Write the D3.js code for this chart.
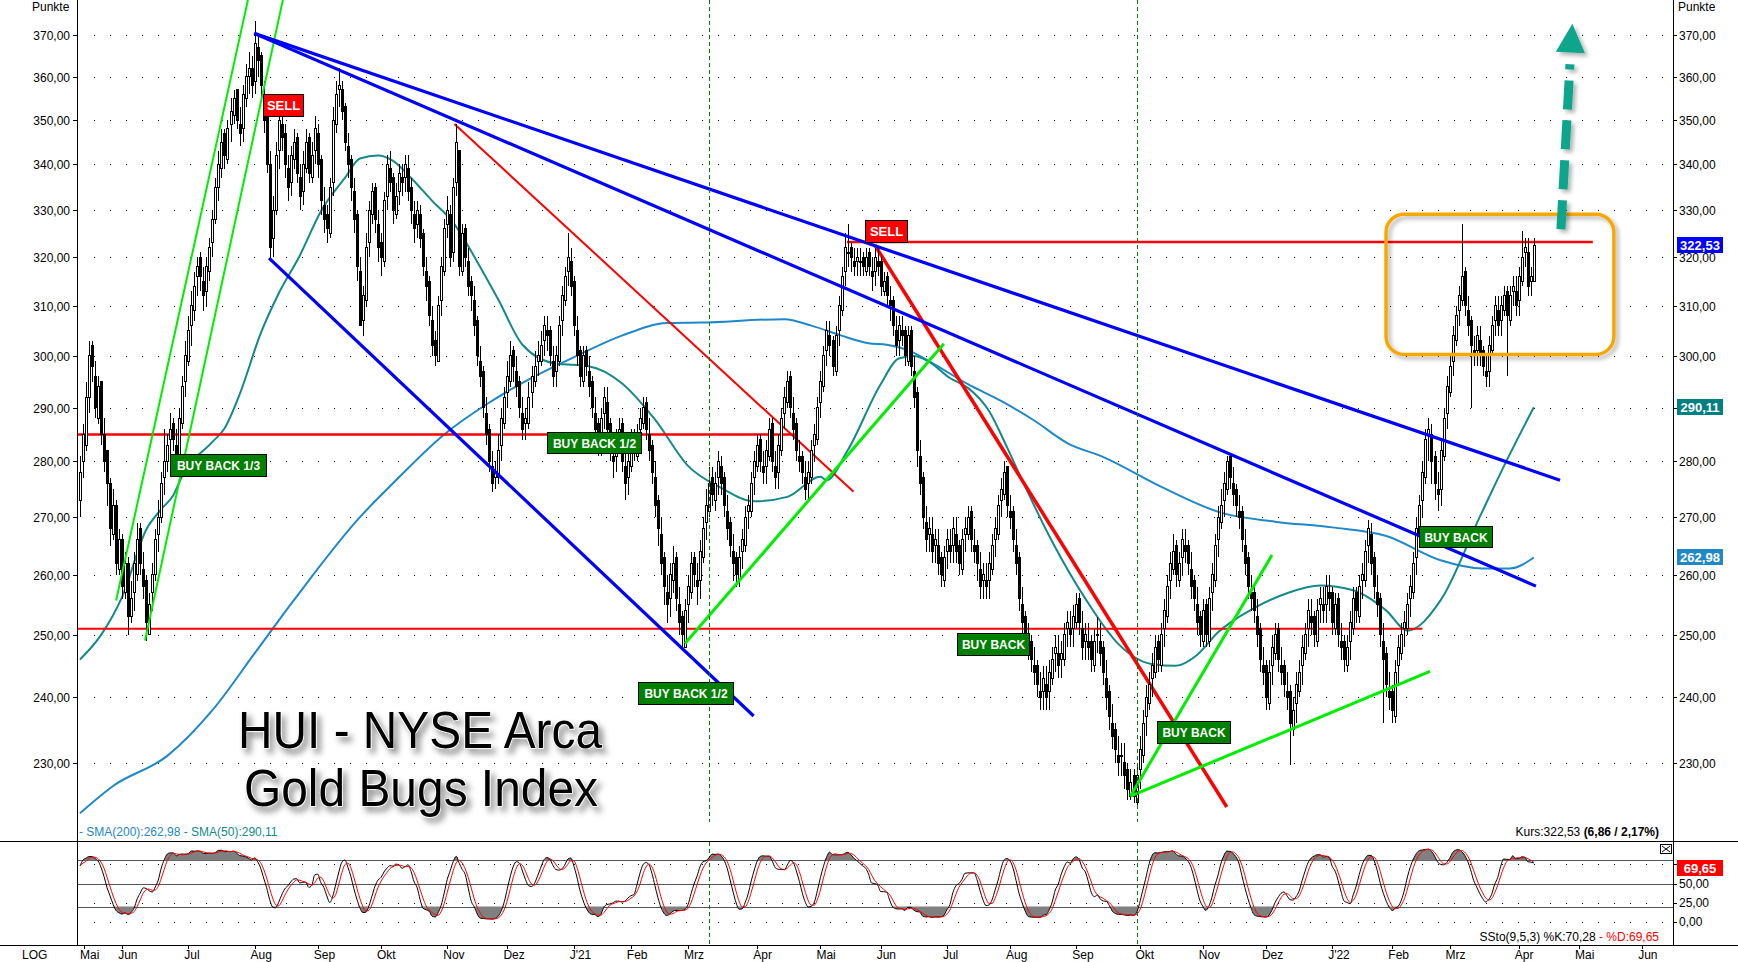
<!DOCTYPE html>
<html><head><meta charset="utf-8">
<script src="https://cdn.jsdelivr.net/npm/d3@7"></script>
<style>body{margin:0;background:#fff}svg{display:block}text{font-family:Arial,"Liberation Sans",sans-serif}</style>
</head><body><svg id="c" width="1738" height="962"></svg>
<script>
// ---------- DATA (daily candles, 2020-05-11 .. 2022-04-08) ----------
const opens=[273,280,283,292,302,296,288,295,285,282,
276,267,272,261,266,257,262,253,257,260,
268,261,259,250,257,260,267,270,277,280,
284,287,283,281,287,295,299,306,309,316,
320,315,313,317,323,328,335,339,347,341,
349,351,357,349,348,355,360,362,359,367,
365,356,352,340,324,330,343,349,347,339,
336,341,346,337,334,339,346,337,343,347,
341,331,329,325,336,349,357,357,353,344,
341,334,329,317,307,311,323,329,335,327,
323,319,333,339,337,329,334,337,337,339,
335,329,327,329,325,317,315,307,303,299,
311,317,327,329,321,336,343,317,326,319,
315,311,307,299,297,289,286,279,277,277,
283,287,293,295,301,297,295,289,287,287,
293,295,299,299,303,305,305,299,297,299,
307,311,317,319,315,305,301,295,301,297,
295,289,287,282,289,291,287,281,281,283,
287,279,277,279,285,281,286,287,291,285,
283,277,273,267,263,257,256,259,263,255,
253,248,255,257,263,259,259,263,269,271,
277,273,277,279,277,271,269,264,263,259,
264,265,271,271,277,279,284,279,279,281,
287,279,278,282,289,291,296,289,287,281,
281,277,276,277,283,284,291,294,301,304,
303,297,305,309,317,321,322,319,319,319,
320,317,321,317,317,319,319,313,316,311,
311,305,303,305,305,299,305,297,293,281,
277,269,267,267,265,265,263,259,264,265,
265,267,265,261,267,267,271,265,265,261,
259,259,259,261,266,267,273,274,279,271,
271,265,263,255,253,249,249,245,245,241,
241,242,241,243,247,247,246,246,251,251,
251,252,256,251,249,249,249,245,250,249,
248,243,241,236,235,231,231,230,229,225,
228,224,229,231,237,239,243,244,249,245,
251,253,259,261,265,259,263,265,265,261,
259,255,253,249,255,249,257,259,266,269,
273,275,281,276,275,271,271,265,263,257,
257,253,251,245,245,239,245,247,251,245,
245,241,241,235,239,241,245,247,251,253,
253,249,255,255,255,257,257,251,256,249,
249,245,249,251,257,253,259,259,265,267,
263,257,256,249,247,241,241,237,245,247,
251,251,256,257,263,267,273,277,285,285,
281,275,275,281,289,293,299,303,309,311,
317,309,307,301,301,303,301,297,297,301,
307,309,307,309,313,307,313,313,311,315,
321,321,315,315];
const highs=[281,287,295,303,303,299,296,295,288,282,
277,275,273,268,267,264,263,259,264,269,
269,264,260,257,262,268,273,278,286,285,
289,288,286,290,296,303,308,313,317,320,
321,318,320,324,330,337,343,348,348,350,
355,357,357,353,358,363,366,365,373.5,370,
366,359,353,343,333,345,353,352,349,342,
344,348,347,340,343,348,347,345,351,349,
342,335,331,337,353,359,362,359,354,347,
342,337,330,320,314,325,332,336,336,330,
325,334,342,343,338,336,340,340,342,342,
337,332,332,331,326,320,316,310,305,312,
320,328,333,331,337,349,343,327,327,322,
316,314,308,302,298,292,287,282,280,285,
290,294,299,303,302,300,296,292,290,295,
298,301,303,305,308,308,306,302,302,308,
314,318,325,322,316,308,302,302,302,300,
296,292,288,290,294,294,288,284,286,288,
288,282,282,286,286,287,290,292,292,288,
284,280,274,270,264,260,262,265,264,258,
254,256,260,264,264,262,266,270,275,279,
279,278,282,281,278,274,270,267,264,265,
268,272,274,278,282,285,285,282,284,288,
288,282,285,290,294,297,297,292,288,284,
282,280,280,284,287,292,297,302,307,307,
304,306,312,318,325,327,323,322,322,322,
321,322,322,320,322,322,320,317,317,314,
312,308,308,308,306,306,306,300,294,284,
278,272,270,270,268,268,264,265,268,268,
270,270,266,268,270,272,272,268,266,264,
262,262,264,267,270,274,277,280,279,274,
272,268,264,258,254,252,250,248,246,244,
245,245,246,248,250,250,249,252,254,254,
255,257,257,254,252,252,250,251,253,252,
249,246,242,239,236,234,233,233,230,229,
229,230,234,238,242,244,247,250,250,252,
256,260,264,267,266,264,268,268,266,264,
260,258,254,256,256,258,262,267,272,275,
278,281,281,279,276,274,272,268,264,260,
258,256,252,248,246,246,250,252,252,248,
246,244,242,240,244,246,250,252,256,256,
254,256,258,258,260,260,258,257,257,252,
250,250,254,258,258,260,262,266,269.5,269,
264,260,257,252,248,244,242,246,250,252,
254,257,260,264,270,274,280,286,288,287,
282,278,284,290,296,300,306,310,314,327,
318,312,308,304,306,306,302,300,304,308,
312,312,312,314,314,314,316,316,318,325.5,
324,324,318,324];
const lows=[270,277,282,289,295,288,287,283,278,272,
265,266,260,260,256,256,250,252,254,259,
260,256,249,250,254,259,264,269,274,278,
280,282,278,279,286,292,298,302,307,312,
313,309,310,315,320,327,332,337,339,340,
345,349,348,344,345,353,356,355,356,360,
355,347,338,319.5,320,329,339,343,337,332,
333,339,336,330,331,338,336,336,340,337,
329,325,323,324,333,347,353,350,343,337,
332,325,315,306,304,310,320,327,325,319,
316,318,330,334,327,328,331,333,334,332,
327,323,324,322,316,311,306,300,298,299,
308,316,324,318,319,333,316,316,318,312,
309,304,298,294,288,283,278,274.5,275,276,
280,286,290,294,295,292,288,284,284,286,
290,294,296,298,300,301,298,294,294,298,
304,310,314,312,304,298,294,294,296,292,
288,284,281,281,286,284,280,277,278,282,
278,273,274,278,280,280,283,286,284,280,
276,270,265,260,255,252,253,257,254,250,
248,248,252,256,258,255,256,262,266,270,
272,271,274,274,270,266,263,259,258,258,
261,264,268,270,274,278,278,276,276,280,
278,275,275,281,286,290,288,284,280,278,
276,273,273,276,280,283,288,293,298,300,
296,296,302,308,314,318,317,316,316,316,
316,316,316,313,314,316,312,312,310,307,
304,300,300,302,298,298,296,290,279,274,
268,264,264,262,262,260,258,258,261,262,
262,262,260,260,264,266,264,262,259,256,
256,256,256,260,263,266,270,273,270,268,
264,260,254,250,248,246,244,242,240,238,
238,238,238,242,244,243,243,245,248,248,
248,251,250,246,246,246,244,244,247,245,
242,238,235,232,230,228,228,226,224.5,224.5,
224,223.5,226,230,234,238,240,243,244,244,
248,252,256,260,258,258,260,262,260,256,
254,250,248,248,248,248,254,258,263,268,
270,274,275,272,270,268,264,260,256,254,
252,248,244,242,238,238,242,246,244,242,
240,238,229.6,234,236,240,242,246,248,250,
248,248,252,252,252,254,250,250,248,246,
244,244,246,250,252,252,256,258,262,260,
256,253,248,236,240,238,236,236,242,246,
248,250,253,256,260,266,270,276,280,276,
273,271,272,280,286,292,296,302,306,310,
308,304,290,298,298,298,296,294,294,300,
304,304,304,308,296,306,310,308,308,314,
318,312,312,315];
const closes=[278,285,292,300,298,290,294,285,280,276,
268,272,262,266,258,262,253,256,262,266,
262,258,252,255,260,266,270,276,280,283,
286,284,280,288,294,300,305,310,314,318,
316,312,318,322,328,335,340,345,342,348,
352,355,350,347,356,360,362,358,368,364,
358,350,340,322,330,342,350,346,340,335,
342,345,338,333,340,345,338,342,348,340,
332,328,326,335,350,356,358,352,345,340,
335,328,318,306,312,322,330,334,328,322,
320,332,340,336,330,333,338,336,340,334,
330,326,330,324,318,314,308,302,300,310,
318,326,330,320,335,345,318,325,320,314,
312,306,300,296,290,285,280,276,278,282,
288,292,296,300,298,294,290,286,288,292,
296,298,300,302,306,304,300,296,300,306,
312,316,320,314,306,300,296,300,298,294,
290,286,283,288,292,286,282,280,284,286,
280,276,280,284,282,285,288,290,286,282,
278,272,268,262,258,255,260,262,256,252,
250,254,258,262,260,258,264,268,272,276,
274,276,280,276,272,268,265,262,260,263,
266,270,272,276,280,283,280,278,282,286,
280,277,283,288,292,295,290,286,282,280,
278,275,278,282,285,290,295,300,305,302,
298,304,310,316,322,321,320,318,320,319,
318,320,318,316,320,318,314,315,312,310,
306,302,306,304,300,304,298,292,282,276,
270,266,268,264,266,262,260,263,266,264,
268,264,262,266,268,270,266,264,262,258,
260,258,262,265,268,272,275,278,272,270,
266,262,256,252,250,248,246,244,242,240,
243,240,244,246,248,245,247,250,252,250,
253,255,252,248,250,248,246,249,250,247,
244,240,237,234,232,230,231,228,226,227,
225,228,232,236,240,242,245,248,246,250,
254,258,262,264,260,262,266,264,262,258,
256,252,250,254,250,256,260,265,270,272,
276,280,277,274,272,270,266,262,258,256,
254,250,246,244,240,244,248,250,246,244,
242,240,236,238,242,244,248,250,254,252,
250,254,256,254,258,256,252,255,250,248,
246,248,252,256,254,258,260,264,268,262,
258,255,250,246,242,240,238,244,248,250,
252,255,258,262,268,272,278,284,286,280,
276,274,282,288,294,298,304,308,312,316,
310,306,302,300,304,300,298,296,302,306,
310,306,310,312,308,312,314,310,316,320,
322,314,316,322.53];
const sma200Idx=[0,11,29,44,58,71,93,103,121,136,151,165,180,195,206,234,243,253,262,268,276,284,295,306,317,328,340,360,379,397,416,434,452,466,475,483];
const sma200Val=[222.5,226.5,231,238,247,255.7,270,275.5,285,291,296,300,304,306.5,306.6,307.3,306,304,302.5,302.2,300.9,298.3,294.5,291.3,287.6,283.4,280.8,275.2,270.8,269.2,268.2,266.7,262.5,261.1,261.1,262.98];
const sma50Idx=[0,7,14,22,27,31,34,44,48,53,60,66,73,80,88,93,99,104,110,117,124,132,139,147,158,169,180,191,202,213,224,235,246,248,255,266,272,277,282,289,295,302,308,313,323,334,345,356,364,371,378,390,401,412,423,434,441,452,465,474,483];
const sma50Val=[246,250,256.3,267.8,271.4,273.9,277.4,283.6,286.1,292.5,304.4,312.5,320.3,329.7,337,341.3,342,340.8,337,332,327.3,319,311.2,302.2,298.5,298,294.7,287.8,279.2,275.2,272.8,273.6,277.2,276.6,282,294.5,299.5,300,298.9,295.7,293.8,289.4,282.6,276.6,265.7,256,248.5,245.3,245,246.7,250.4,254.4,256.9,258.2,257.4,254,250.7,255.7,270,280.2,290.11];
const yTicks=[230,240,250,260,270,280,290,300,310,320,330,340,350,360,370];
const stoTicks=[0,25,50,75];
const monthNames=["Mai","Jun","Jul","Aug","Sep","Okt","Nov","Dez","J'21","Feb","Mrz","Apr","Mai","Jun","Jul","Aug","Sep","Okt","Nov","Dez","J'22","Feb","Mrz","Apr","Mai","Jun"];
const holidays=["2020-05-25","2020-07-03","2020-09-07","2020-11-26","2020-12-25","2021-01-01","2021-01-18","2021-02-15","2021-04-02","2021-05-31","2021-07-05","2021-09-06","2021-11-25","2021-12-24","2022-01-17","2022-02-21","2022-04-15","2022-05-30"];
const startDate="2020-05-11";
const greenLines=[[12,255.7,55.8,378.6,2],[21.6,249.1,67.4,378.6,2],[201,248.6,287,302.4,3],[349,225,396,263.4,3],[349,225,448.5,244.1,3]];
const redLines=[[-1,285,238.5,285,2.5],[-1,251,446,251,2],[254.8,323.2,502.6,323.2,2.5],[124.4,349.1,257,274.5,2],[264.1,322.5,381,223.4,3.5]];
const blueLines=[[57.9,370.4,491.7,276.6],[57.9,370.4,483.7,258.1],[62.8,319.8,223.8,237.1]];
const labels=[
 {t:"SELL",i:60.8,v:356,w:40,h:22,f:"#ff0000"},
 {t:"SELL",i:260.8,v:327.8,w:42,h:22,f:"#ff0000"},
 {t:"BUY BACK 1/3",i:29.9,v:281.4,w:96,h:22,f:"#008000"},
 {t:"BUY BACK 1/2",i:155,v:285.4,w:94,h:21,f:"#008000"},
 {t:"BUY BACK 1/2",i:185.5,v:242.5,w:95,h:22,f:"#008000"},
 {t:"BUY BACK",i:291.2,v:250.3,w:72,h:22,f:"#008000"},
 {t:"BUY BACK",i:357.8,v:236.4,w:73,h:22,f:"#008000"},
 {t:"BUY BACK",i:444.9,v:268.5,w:73,h:21,f:"#008000"}];
const boxCorners=[433.9,329.1,509.6,300.3];
const arrowShaft=[492,325.9,495,363];
const arrowHead=[[495.8,372.7],[490.3,366],[500,365.6]];
const dashedIdx=[209,351];
const lastClose=322.53, lastSma200=262.98, lastSma50=290.11, lastD=69.65;

// ---------- SETUP ----------
const svg=d3.select("#c");
const L=77,R=1673,MB=841,SB=945;
const x=d3.scaleLinear().domain([0,483]).range([80,80+483*3.01]);
const y=d3.scaleLog().domain([230,370]).range([762.5,35]);
const ys=d3.scaleLinear().domain([0,100]).range([922,845]);
const fmt=v=>d3.format(".2f")(v).replace(".",",");
const defs=svg.append("defs");
defs.append("clipPath").attr("id","cm").append("rect").attr("x",L+1).attr("y",0).attr("width",R-L-1).attr("height",MB);
defs.append("clipPath").attr("id","cs").append("rect").attr("x",L+1).attr("y",MB+1).attr("width",R-L-1).attr("height",SB-MB-1);
const f=defs.append("filter").attr("id","sh").attr("x","-20%").attr("y","-20%").attr("width","140%").attr("height","140%");
f.append("feDropShadow").attr("dx",4).attr("dy",5).attr("stdDeviation",3).attr("flood-color","#000").attr("flood-opacity",0.45);
const f2=defs.append("filter").attr("id","sh2").attr("x","-20%").attr("y","-20%").attr("width","140%").attr("height","140%");
f2.append("feDropShadow").attr("dx",3).attr("dy",3).attr("stdDeviation",2).attr("flood-color","#000").attr("flood-opacity",0.3);

const hol=new Set(holidays);
const dates=[];{let d=new Date(startDate+"T12:00:00Z");while(dates.length<540){const wd=d.getUTCDay();const s=d.toISOString().slice(0,10);if(wd!==0&&wd!==6&&!hol.has(s))dates.push(new Date(d));d=new Date(d.getTime()+86400000);}}

const main=svg.append("g").attr("clip-path","url(#cm)");
main.selectAll("line.g").data(yTicks).join("line").attr("x1",94).attr("x2",R-4).attr("y1",d=>Math.round(y(d))+0.5).attr("y2",d=>Math.round(y(d))+0.5)
 .attr("stroke","#000").attr("stroke-dasharray","1 15").attr("shape-rendering","crispEdges");
dashedIdx.forEach(i=>{[[0,822],[MB+1,SB]].forEach(r=>svg.append("line").attr("x1",Math.round(x(i))+0.5).attr("x2",Math.round(x(i))+0.5).attr("y1",r[0]).attr("y2",r[1]).attr("stroke","#008000").attr("stroke-dasharray","4 3"));});
const sline=d3.line().x(d=>x(d[0])).y(d=>y(d[1])).curve(d3.curveMonotoneX);
main.append("path").attr("d",sline(sma200Idx.map((d,k)=>[d,sma200Val[k]]))).attr("fill","none").attr("stroke","#1e88c8").attr("stroke-width",2);
main.append("path").attr("d",sline(sma50Idx.map((d,k)=>[d,sma50Val[k]]))).attr("fill","none").attr("stroke","#138a8a").attr("stroke-width",2);
redLines.forEach(l=>main.append("line").attr("x1",x(l[0])).attr("y1",y(l[1])).attr("x2",x(l[2])).attr("y2",y(l[3])).attr("stroke","#ff0000").attr("stroke-width",l[4]));
// candles
const cg=main.append("g").attr("shape-rendering","crispEdges");
closes.forEach((c,i)=>{const o=opens[i];const xc=Math.round(x(i));
 const hi=Math.max(highs[i],o,c),lo=Math.min(lows[i],o,c);
 cg.append("line").attr("x1",xc+0.5).attr("x2",xc+0.5).attr("y1",y(hi)).attr("y2",y(lo)).attr("stroke","#000");
 const t=Math.min(y(o),y(c)),b=Math.max(y(o),y(c));
 cg.append("rect").attr("x",xc-0.5).attr("y",t).attr("width",2).attr("height",Math.max(1,b-t)).attr("fill",c>=o?"#fff":"#000").attr("stroke","#000");});
greenLines.forEach(l=>main.append("line").attr("x1",x(l[0])).attr("y1",y(l[1])).attr("x2",x(l[2])).attr("y2",y(l[3])).attr("stroke","#00ee00").attr("stroke-width",l[4]));
blueLines.forEach(l=>main.append("line").attr("x1",x(l[0])).attr("y1",y(l[1])).attr("x2",x(l[2])).attr("y2",y(l[3])).attr("stroke","#0000ff").attr("stroke-width",3.2));
main.append("rect").attr("x",x(boxCorners[0])).attr("y",y(boxCorners[1])).attr("width",x(boxCorners[2])-x(boxCorners[0])).attr("height",y(boxCorners[3])-y(boxCorners[1]))
 .attr("rx",18).attr("fill","none").attr("stroke","#f7a800").attr("stroke-width",3.5).attr("filter","url(#sh2)");
const ag=main.append("g").attr("filter","url(#sh2)");
ag.append("line").attr("x1",x(arrowShaft[0])).attr("y1",y(arrowShaft[1])).attr("x2",x(arrowShaft[2])).attr("y2",y(arrowShaft[3])).attr("stroke","#0ea58c").attr("stroke-width",9).attr("stroke-dasharray","29 11");
ag.append("polygon").attr("points",arrowHead.map(p=>[x(p[0]),y(p[1])].join(",")).join(" ")).attr("fill","#0ea58c");
labels.forEach(b=>{const X=Math.round(x(b.i))+0.5,Y=Math.round(y(b.v))+0.5;
 main.append("rect").attr("x",X).attr("y",Y).attr("width",b.w).attr("height",b.h).attr("fill",b.f).attr("stroke","#000");
 main.append("text").attr("x",X+b.w/2).attr("y",Y+b.h/2+4.5).attr("text-anchor","middle").attr("fill","#fff").attr("font-weight","bold").attr("font-size",b.t==="SELL"?13:12).text(b.t);});
const tg=main.append("g").attr("filter","url(#sh)");
[["HUI - NYSE Arca",238,748,364],["Gold Bugs Index",244,806,354]].forEach(t=>tg.append("text").attr("x",t[1]).attr("y",t[2]).attr("font-size",52).attr("textLength",t[3]).attr("lengthAdjust","spacingAndGlyphs")
 .attr("fill","#000").attr("stroke","#fff").attr("stroke-width",1.2).attr("paint-order","stroke").text(t[0]));

// axes
svg.append("line").attr("x1",L+0.5).attr("x2",L+0.5).attr("y1",0).attr("y2",SB).attr("stroke","#000");
svg.append("line").attr("x1",R+0.5).attr("x2",R+0.5).attr("y1",0).attr("y2",SB).attr("stroke","#000");
svg.append("line").attr("x1",0).attr("x2",1738).attr("y1",MB+0.5).attr("y2",MB+0.5).attr("stroke","#000");
svg.append("line").attr("x1",0).attr("x2",1738).attr("y1",SB+0.5).attr("y2",SB+0.5).attr("stroke","#000");
const ax=svg.append("g").attr("font-size",12).attr("fill","#000");
const badgeYs=[y(lastClose),y(lastSma50),y(lastSma200)];
yTicks.forEach(v=>{const Y=Math.round(y(v))+0.5;
 ax.append("line").attr("x1",L-4).attr("x2",L).attr("y1",Y).attr("y2",Y).attr("stroke","#000");
 ax.append("line").attr("x1",R).attr("x2",R+4).attr("y1",Y).attr("y2",Y).attr("stroke","#000");
 ax.append("text").attr("x",70).attr("y",Y+4).attr("text-anchor","end").text(fmt(v));
 if(!badgeYs.some(b=>Math.abs(b-Y)<9)) ax.append("text").attr("x",1679).attr("y",Y+4).text(fmt(v));});
ax.append("text").attr("x",32).attr("y",11).text("Punkte");
ax.append("text").attr("x",1678).attr("y",11).text("Punkte");
function badge(v,yy,col){const g=svg.append("g");g.append("rect").attr("x",1677).attr("y",Math.round(yy)-8).attr("width",46).attr("height",16).attr("fill",col);
 g.append("text").attr("x",1700).attr("y",Math.round(yy)+5).attr("text-anchor","middle").attr("fill","#fff").attr("font-weight","bold").attr("font-size",13).text(fmt(v));}
badge(lastClose,y(lastClose),"#0000ff");badge(lastSma50,y(lastSma50),"#008080");badge(lastSma200,y(lastSma200),"#1e88c8");
const lg=svg.append("text").attr("x",79).attr("y",836).attr("font-size",12);
lg.append("tspan").attr("fill","#1e88c8").text("- SMA(200):262,98 ");lg.append("tspan").attr("fill","#138a8a").text(" - SMA(50):290,11");
const kt=svg.append("text").attr("x",1659).attr("y",836).attr("font-size",12).attr("text-anchor","end");
kt.append("tspan").text("Kurs:322,53 ");kt.append("tspan").attr("font-weight","bold").text("(6,86 / 2,17%)");

// stochastic SSto(9,5,3) computed from the candles
const sg=svg.append("g").attr("clip-path","url(#cs)");
stoTicks.forEach(v=>sg.append("line").attr("x1",94).attr("x2",R-4).attr("y1",Math.round(ys(v))+0.5).attr("y2",Math.round(ys(v))+0.5).attr("stroke","#000").attr("stroke-dasharray","1 15"));
[20,50,80].forEach(v=>sg.append("line").attr("x1",L).attr("x2",R).attr("y1",Math.round(ys(v))+0.5).attr("y2",Math.round(ys(v))+0.5).attr("stroke","#555"));
function sma(a,n){return a.map((_,i)=>d3.mean(a.slice(Math.max(0,i-n+1),i+1)));}
const rawK=closes.map((c,i)=>{const s=Math.max(0,i-8);const lo=d3.min(lows.slice(s,i+1)),hi=d3.max(highs.slice(s,i+1));return hi>lo?(c-lo)/(hi-lo)*100:50;});
const K=sma(rawK,5),D=sma(K,3);
const kd=K.map((v,i)=>[i,v]);
sg.append("path").attr("d",d3.area().x(d=>x(d[0])).y0(ys(80)).y1(d=>ys(Math.max(80,d[1]))).curve(d3.curveMonotoneX)(kd)).attr("fill","#808080");
sg.append("path").attr("d",d3.area().x(d=>x(d[0])).y0(ys(20)).y1(d=>ys(Math.min(20,d[1]))).curve(d3.curveMonotoneX)(kd)).attr("fill","#808080");
sg.append("path").attr("d",d3.line().x(d=>x(d[0])).y(d=>ys(d[1])).curve(d3.curveMonotoneX)(kd)).attr("fill","none").attr("stroke","#000");
sg.append("path").attr("d",d3.line().x(d=>x(d[0])).y(d=>ys(d[1])).curve(d3.curveMonotoneX)(D.map((v,i)=>[i,v]))).attr("fill","none").attr("stroke","#ff0000");
stoTicks.forEach(v=>{if(Math.abs(ys(v)-ys(lastD))>9) ax.append("text").attr("x",1679).attr("y",Math.round(ys(v))+4).text(fmt(v));
 ax.append("line").attr("x1",R).attr("x2",R+4).attr("y1",Math.round(ys(v))+0.5).attr("y2",Math.round(ys(v))+0.5).attr("stroke","#000");});
{const g=svg.append("g");g.append("rect").attr("x",1677).attr("y",Math.round(ys(lastD))-8).attr("width",46).attr("height",16).attr("fill","#ff0000");
 g.append("text").attr("x",1700).attr("y",Math.round(ys(lastD))+5).attr("text-anchor","middle").attr("fill","#fff").attr("font-weight","bold").attr("font-size",13).text(fmt(lastD));}
const st=svg.append("text").attr("x",1659).attr("y",941).attr("font-size",12).attr("text-anchor","end");
st.append("tspan").text("SSto(9,5,3) %K:70,28 ");st.append("tspan").attr("fill","#ff0000").text("- %D:69,65");
svg.append("rect").attr("x",1660.5).attr("y",844.5).attr("width",11).attr("height",9).attr("fill","#fff").attr("stroke","#000");
svg.append("path").attr("d","M1662,846L1670,852M1670,846L1662,852").attr("stroke","#000");

// x axis
ax.append("text").attr("x",22).attr("y",959).text("LOG");
const mStarts=[];dates.forEach((d,i)=>{if(i===0||d.getUTCMonth()!==dates[i-1].getUTCMonth())mStarts.push(i);});
mStarts.forEach((i,k)=>{if(k>=monthNames.length)return;const X=Math.max(x(i),84);if(X>R-10)return;
 ax.append("line").attr("x1",Math.round(X)+0.5).attr("x2",Math.round(X)+0.5).attr("y1",SB).attr("y2",SB+4).attr("stroke","#000");
 ax.append("text").attr("x",X-4).attr("y",959).text(monthNames[k]);});
</script></body></html>
